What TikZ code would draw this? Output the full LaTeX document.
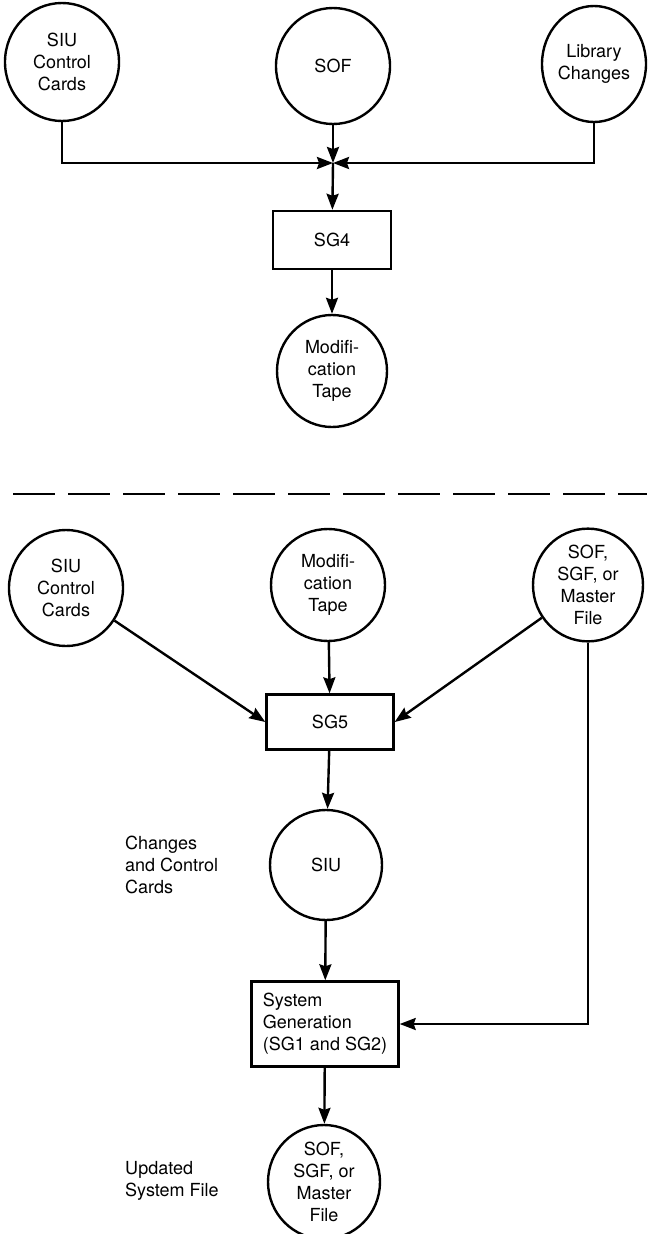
\documentclass[tikz,border=0pt]{standalone}
\usepackage{fontspec}
\setmainfont{TeX Gyre Heros}
\usetikzlibrary{shapes.geometric,arrows.meta}
\tikzset{
  x=1pt,y=-1pt,
  every node/.style={font=\fontsize{18}{22}\selectfont},
  disk/.style={draw,ellipse,line width=2.4pt,inner sep=0pt,align=center},
  proc/.style={draw,rectangle,line width=2.4pt,inner sep=0pt,align=center},
  arr/.style={line width=2.4pt,-{Stealth[length=16pt,width=12pt,inset=2pt]}},
  note/.style={align=left,anchor=west,inner sep=0pt}
}
\begin{document}
\begin{tikzpicture}
\useasboundingbox (0,0) rectangle (655,1234);
% top part
\node[disk,minimum width=114pt,minimum height=118pt] (t1) at (62,62) {SIU\\Control\\Cards};
\node[disk,minimum width=114pt,minimum height=116pt] (t2) at (333,66) {SOF};
\node[disk,minimum width=104pt,minimum height=116pt] (t3) at (594,64) {Library\\Changes};
\coordinate (j) at (333,163);
\node[proc,minimum width=118pt,minimum height=58pt] (sg4) at (332,240) {SG4};
\node[disk,minimum width=110pt,minimum height=112pt] (mt) at (332,371) {Modifi-\\cation\\Tape};
\draw[arr] (t1.south) |- (j);
\draw[arr] (t3.south) |- (j);
\draw[arr] (t2) -- (j);
\draw[arr] (j) -- (sg4);
\draw[arr] (sg4) -- (mt);
% separator
\coordinate (dl) at (13,494);
\coordinate (dr) at (647,494);
\draw[line width=2.6pt,dash pattern=on 42pt off 13pt] (dl) -- (dr);
% bottom part
\node[disk,minimum width=114pt,minimum height=116pt] (b1) at (66,588) {SIU\\Control\\Cards};
\node[disk,minimum width=114pt,minimum height=112pt] (b2) at (328,585) {Modifi-\\cation\\Tape};
\node[disk,minimum width=110pt,minimum height=112pt] (b3) at (588,585) {SOF,\\SGF, or\\Master\\File};
\node[proc,minimum width=127pt,minimum height=55pt] (sg5) at (330,722) {SG5};
\node[disk,minimum width=112pt,minimum height=110pt] (siu) at (326,865) {SIU};
\node[proc,minimum width=147pt,minimum height=85pt,align=left] (sys) at (325,1024) {System\\Generation\\(SG1 and SG2)};
\node[disk,minimum width=112pt,minimum height=114pt] (out) at (324,1182) {SOF,\\SGF, or\\Master\\File};
\node[note] (n1) at (125,865) {Changes\\and Control\\Cards};
\node[note] (n2) at (125,1181) {Updated\\System File};
\draw[arr] (b1) -- (sg5.west);
\draw[arr] (b2) -- (sg5);
\draw[arr] (b3) -- (sg5.east);
\draw[arr] (sg5) -- (siu);
\draw[arr] (siu) -- (sys);
\draw[arr] (b3.south) |- (sys.east);
\draw[arr] (sys) -- (out);
\end{tikzpicture}
\end{document}
